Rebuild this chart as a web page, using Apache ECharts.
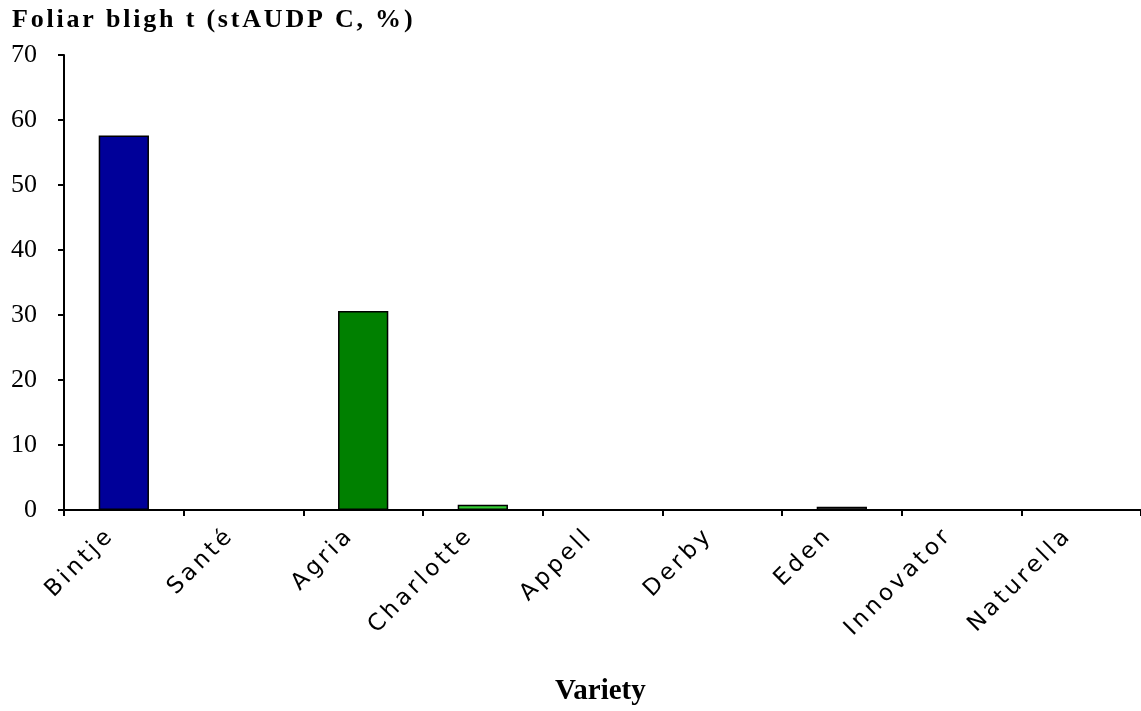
<!DOCTYPE html>
<html>
<head>
<meta charset="utf-8">
<script src="https://cdn.jsdelivr.net/npm/echarts@6/dist/echarts.min.js"></script>
<style>
html, body { margin: 0; padding: 0; background: #fff; }
#main { width: 1141px; height: 711px; }
</style>
</head>
<body>
<div id="main"></div>
<script>
var varieties = ['Bintje', 'Santé', 'Agria', 'Charlotte', 'Appell', 'Derby', 'Eden', 'Innovator', 'Naturella'];
var blightValues = [57.6, 0, 30.6, 0.8, 0, 0, 0.5, 0, 0];
var barColors = ['#000099', '#000099', '#008000', '#33cc33', '#808080', '#808080', '#808080', '#808080', '#808080'];
var yTicks = [0, 10, 20, 30, 40, 50, 60, 70];

// the original sets the category labels and the title very loosely,
// so add canvas letter spacing for those two fonts only
var origFill = CanvasRenderingContext2D.prototype.fillText;
CanvasRenderingContext2D.prototype.fillText = function (t, x, y, w) {
    var f = this.font;
    var sp = '0px';
    if (f.indexOf('DejaVu') >= 0) sp = '3.5px';
    else if (f.indexOf('26px') >= 0 && f.indexOf('bold') >= 0) sp = '2.8px';
    this.letterSpacing = sp;
    var r = w === undefined ? origFill.call(this, t, x, y) : origFill.call(this, t, x, y, w);
    this.letterSpacing = '0px';
    return r;
};

var myChart = echarts.init(document.getElementById('main'));
myChart.setOption({
    animation: false,
    title: [
        {
            text: 'Foliar bligh t (stAUDP C, %)',
            left: 12, top: 7, padding: 0,
            textStyle: { fontFamily: 'Liberation Serif', fontSize: 26, fontWeight: 'bold', color: '#000' }
        },
        {
            text: 'Variety',
            left: 555, top: 677, padding: 0,
            textStyle: { fontFamily: 'Liberation Serif', fontSize: 29, fontWeight: 'bold', color: '#000' }
        }
    ],
    grid: { left: 64, right: -2, top: 55, bottom: 201 },
    xAxis: {
        type: 'category',
        data: varieties,
        axisLine: { lineStyle: { color: '#000', width: 2 } },
        axisTick: { show: true, length: 6, lineStyle: { color: '#000', width: 2 } },
        axisLabel: {
            interval: 0, rotate: 45, margin: 9,
            padding: [0, 18, 0, 0],
            fontFamily: 'DejaVu Sans', fontSize: 23, color: '#000'
        }
    },
    yAxis: {
        type: 'value',
        min: yTicks[0], max: yTicks[yTicks.length - 1], interval: 10,
        axisLine: { show: true, lineStyle: { color: '#000', width: 2 } },
        axisTick: { show: true, length: 6, lineStyle: { color: '#000', width: 2 } },
        splitLine: { show: false },
        axisLabel: { fontFamily: 'Liberation Serif', fontSize: 26, color: '#000', margin: 27 }
    },
    series: [{
        type: 'bar',
        barWidth: '42%',
        data: blightValues.map(function (v, i) {
            return { value: v, itemStyle: { color: barColors[i] } };
        }),
        itemStyle: { borderColor: '#000', borderWidth: 1.5 }
    }]
});
</script>
</body>
</html>
